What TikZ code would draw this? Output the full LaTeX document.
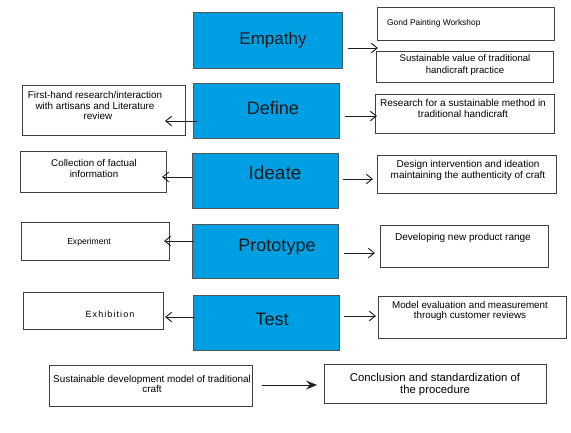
\documentclass[tikz,border=0pt]{standalone}
\usepackage{fontspec}
\setmainfont{Liberation Sans}
\usetikzlibrary{arrows.meta,calc}
\definecolor{stageblue}{HTML}{009FE3}
\definecolor{stageedge}{HTML}{555555}
\definecolor{boxedge}{HTML}{404040}
\definecolor{arrowcol}{HTML}{1E1E1E}
\definecolor{labelblack}{HTML}{1A1A1A}
\begin{document}
\begin{tikzpicture}[x=1pt,y=-1pt,
  stage/.style={draw=stageedge, fill=stageblue, line width=0.8pt, inner sep=0pt, outer sep=0pt},
  box/.style={draw=boxedge, line width=0.7pt, inner sep=0pt, outer sep=0pt},
  txt/.style={inner sep=0pt, align=center, text=black, font=\fontsize{10}{11}\selectfont},
  stxt/.style={inner sep=0pt, text=labelblack, font=\fontsize{18}{20}\selectfont},
  arr/.style={draw=arrowcol, line width=0.9pt, -{Straight Barb[length=6pt,width=9.5pt]}},
  bigarr/.style={draw=arrowcol, line width=1pt, -{Stealth[length=11pt,width=9pt,inset=4pt]}},
]
\useasboundingbox (0,0) rectangle (571,432);

% stage boxes
\node[stage, minimum width=149, minimum height=56] (emp) at (267.5,40) {};
\node[stage, minimum width=146, minimum height=55] (def) at (266,110.5) {};
\node[stage, minimum width=146, minimum height=55] (ide) at (265,180.5) {};
\node[stage, minimum width=146, minimum height=54] (pro) at (265,251) {};
\node[stage, minimum width=146, minimum height=55] (tes) at (266,322.5) {};

\node[stxt, font=\fontsize{17}{20}\selectfont] (empT) at (273,40) {Empathy};
\node[stxt] (defT) at (273,108) {Define};
\node[stxt, font=\fontsize{19}{20}\selectfont] (ideT) at (275,173) {Ideate};
\node[stxt] (proT) at (277,247) {Prototype};
\node[stxt] (tesT) at (272,319) {Test};

% right boxes
\node[box, minimum width=177, minimum height=33] (gond) at (465.5,23.5) {};
\node[box, minimum width=177, minimum height=31] (sv) at (464.5,66.5) {};
\node[box, minimum width=179, minimum height=39] (res) at (464.5,113.5) {};
\node[box, minimum width=179, minimum height=38] (des) at (466.5,174) {};
\node[box, minimum width=168, minimum height=42] (dev) at (464,246) {};
\node[box, minimum width=188, minimum height=42] (mod) at (472,317) {};

\node[txt, anchor=west, font=\fontsize{8.4}{10}\selectfont] (gondT) at (387,23) {Gond Painting Workshop};
\node[txt, font=\fontsize{9.6}{11.5}\selectfont] (svT) at (465,65) {Sustainable value of traditional\\handicraft practice};
\node[txt] (resT) at (463,108) {Research for a sustainable method in\\traditional handicraft};
\node[txt] (desT) at (468,170.5) {Design intervention and ideation\\maintaining the authenticity of craft};
\node[txt] (devT) at (463,238) {Developing new product range};
\node[txt, font=\fontsize{9.8}{10.5}\selectfont] (modT) at (470,311) {Model evaluation and measurement\\through customer reviews};

% left boxes
\node[box, minimum width=163, minimum height=50] (fh) at (103.5,110) {};
\node[box, minimum width=146, minimum height=41] (col) at (93,171.5) {};
\node[box, minimum width=148, minimum height=38] (exp) at (95,241) {};
\node[box, minimum width=140, minimum height=37] (exh) at (93,310.5) {};

\node[txt, font=\fontsize{9.9}{10.5}\selectfont] (fhT) at (95,105.5) {First-hand research/interaction\\with artisans and Literature\\\hspace*{6pt}review};
\node[txt, font=\fontsize{9.8}{11}\selectfont] (colT) at (94,168.5) {Collection of factual\\information};
\node[txt, font=\fontsize{8.6}{10}\selectfont] (expT) at (89,242) {Experiment};
\node[txt, font=\fontsize{9}{10}\selectfont\addfontfeature{LetterSpace=12}] (exhT) at (110,314) {Exhibition};

% bottom boxes
\node[box, minimum width=203, minimum height=41] (sdm) at (150.5,385.5) {};
\node[box, minimum width=222, minimum height=39] (con) at (435,383.5) {};

\node[txt, font=\fontsize{9.9}{10.5}\selectfont] (sdmT) at (152,384) {Sustainable development model of traditional\\craft};
\node[txt, font=\fontsize{11.3}{11.5}\selectfont] (conT) at (435,384.5) {Conclusion and standardization of\\the procedure};

% connectors
\draw[arr] ($(emp.east |- 0,48)+(6,0)$) -- ($(sv.west |- 0,48)+(2,0)$);
\draw[arr] ($(def.east |- 0,116)+(6,0)$) -- ($(res.west |- 0,116)+(2,0)$);
\draw[arr] ($(def.west |- 0,121)+(4,0)$) -- ($(fh.east |- 0,121)+(-20,0)$);
\draw[arr] ($(ide.east |- 0,179)+(5,0)$) -- ($(des.west |- 0,179)+(-4,0)$);
\draw[arr] (ide.west |- 0,177) -- ($(col.east |- 0,177)+(-4,0)$);
\draw[arr] ($(pro.east |- 0,253)+(6,0)$) -- ($(dev.west |- 0,253)+(-5,0)$);
\draw[arr] ($(pro.west |- 0,241)+(2,0)$) -- ($(exp.east |- 0,241)+(-5,0)$);
\draw[arr] ($(tes.east |- 0,316)+(5,0)$) -- ($(mod.west |- 0,316)+(-2,0)$);
\draw[arr] ($(tes.west |- 0,317)+(2,0)$) -- ($(exh.east |- 0,317)+(2,0)$);
\draw[bigarr] ($(sdm.east |- 0,385)+(10,0)$) -- ($(con.west |- 0,385)+(-7,0)$);
\end{tikzpicture}
\end{document}
